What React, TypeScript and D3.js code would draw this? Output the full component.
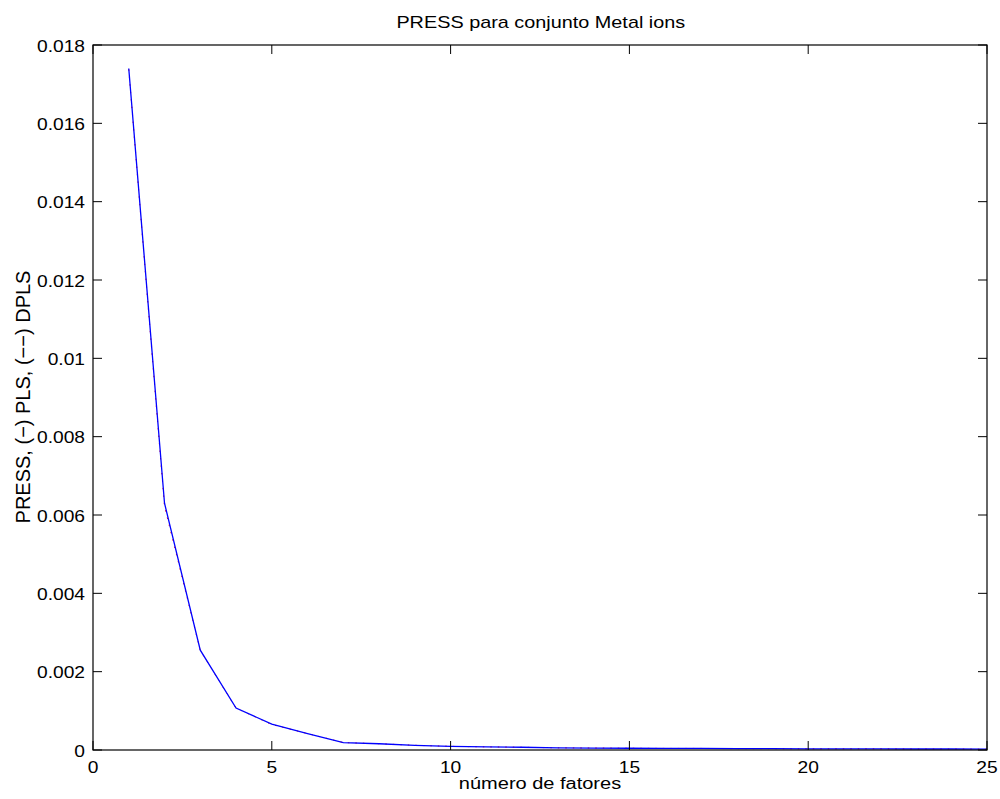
import React from "react";
import * as d3 from "d3";

const factors = [1, 2, 3, 4, 5, 6, 7, 8, 9, 10, 11, 12, 13, 14, 15, 16, 17, 18, 19, 20, 21, 22, 23, 24, 25];
const plsPress = [0.01740, 0.00630, 0.00255, 0.00107, 0.00066, 0.00042, 0.00019, 0.00016, 0.00012, 0.000095, 0.00008, 0.00007, 0.000055, 0.00005, 0.000045, 0.00004, 0.00004, 0.000035, 0.000035, 0.00003, 0.00003, 0.00003, 0.000025, 0.000025, 0.00002];
const dplsPress = [0.01738, 0.00622, 0.00254, 0.00107, 0.00065, 0.00042, 0.00019, 0.00016, 0.00012, 0.000093, 0.00008, 0.00007, 0.000055, 0.00005, 0.000045, 0.00004, 0.00004, 0.000035, 0.000035, 0.00003, 0.00003, 0.00003, 0.000025, 0.000025, 0.00002];
const xTicks = [0, 5, 10, 15, 20, 25];
const yTicks = [0, 0.002, 0.004, 0.006, 0.008, 0.01, 0.012, 0.014, 0.016, 0.018];
const titleText = "PRESS para conjunto Metal ions";
const xLabelText = "número de fatores";
const yLabelText = "PRESS, (−) PLS, (−−) DPLS";

const W = 1000, H = 799;
const L = 93, R = 987, T = 45, B = 750;
const FONT = "'Liberation Sans', Arial, Helvetica, sans-serif";

function SText({ x, y, anchor, fs, sx, children }: any) {
  return (
    <g transform={`translate(${x},${y}) scale(${sx},1)`}>
      <text x={0} y={0} textAnchor={anchor} fontSize={fs} fontFamily={FONT} fill="#000">{children}</text>
    </g>
  );
}

export default function App() {
  const x = d3.scaleLinear().domain([0, 25]).range([L, R]);
  const y = d3.scaleLinear().domain([0, 0.018]).range([B, T]);
  const line = d3.line<number>().x((_, i) => x(factors[i])).y((d) => y(d));
  const tl = 9;
  const fmt = (v: number) => (v === 0 ? "0" : String(+v.toFixed(3)));
  return (
    <svg width={W} height={H} style={{ position: "absolute", left: 0, top: 0 }}>
      <rect x={0} y={0} width={W} height={H} fill="#fff" />
      <path d={line(dplsPress) || ""} fill="none" stroke="#ff0000" strokeWidth={1} strokeDasharray="1.5,6" />
      <path d={line(plsPress) || ""} fill="none" stroke="#0000ff" strokeWidth={1.3} />
      <rect x={L} y={T} width={R - L} height={B - T} fill="none" stroke="#000" strokeWidth={1.2} />
      {xTicks.map((t) => (
        <g key={"x" + t}>
          <line x1={x(t)} x2={x(t)} y1={B} y2={B - tl} stroke="#000" />
          <line x1={x(t)} x2={x(t)} y1={T} y2={T + tl} stroke="#000" />
          <SText x={x(t)} y={773} anchor="middle" fs={16} sx={1.2}>{String(t)}</SText>
        </g>
      ))}
      {yTicks.map((t) => (
        <g key={"y" + t}>
          <line x1={L} x2={L + tl} y1={y(t)} y2={y(t)} stroke="#000" />
          <line x1={R} x2={R - tl} y1={y(t)} y2={y(t)} stroke="#000" />
          <SText x={85} y={y(t) + 6.5} anchor="end" fs={16} sx={1.2}>{fmt(t)}</SText>
        </g>
      ))}
      <SText x={540.8} y={28} anchor="middle" fs={16} sx={1.24}>{titleText}</SText>
      <SText x={540} y={789} anchor="middle" fs={16} sx={1.25}>{xLabelText}</SText>
      <text transform={`translate(30,397) rotate(-90)`} textAnchor="middle" fontSize={20} fontFamily={FONT} fill="#000">{yLabelText}</text>
    </svg>
  );
}
